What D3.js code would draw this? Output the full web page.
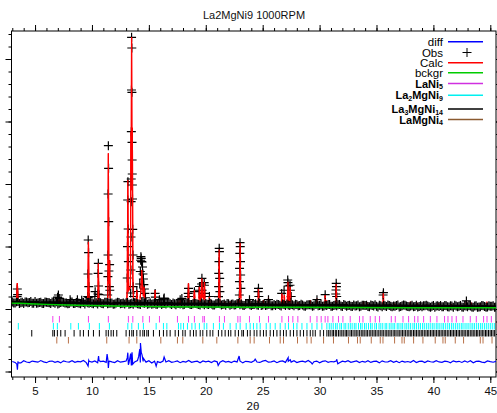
<!DOCTYPE html>
<html><head><meta charset="utf-8">
<script src="https://cdn.jsdelivr.net/npm/d3@7"></script>
<style>
body{margin:0;background:#fff;}
text{font-family:"Liberation Sans",Arial,Helvetica,sans-serif;}
</style>
</head><body>
<svg id="chart" width="497" height="413"></svg>
<script>
// ---------------- DATA ----------------
const chartTitle = "La2MgNi9 1000RPM";
const xLabel = "2\u03B8";
const xMajorTicks = [5,10,15,20,25,30,35,40,45];
const xTickLabels = ["5","10","15","20","25","30","35","40","45"];

// observed pattern: regular grid (start, step) of background counts
const obsStart = 3.0, obsStep = 0.25;
const obsBase = [
1111,1096,1119,1102,1089,1112,1106,1093,1120,1097,1107,1089,1110,1099,1113,1093,
1082,1104,1110,1095,1087,1112,1090,1100,1083,1103,1114,1091,1094,1105,1079,1101,
1085,1107,1091,1095,1080,1108,1084,1096,1100,1076,1093,1102,1084,1072,1098,1104,
1086,1078,1093,1075,1098,1089,1079,1103,1073,1084,1091,1080,1068,1092,1088,1073,
1095,1079,1064,1084,1089,1072,1080,1066,1089,1084,1071,1059,1083,1075,1066,1090,
1069,1061,1078,1084,1056,1073,1063,1088,1066,1058,1075,1053,1071,1076,1062,1080,
1055,1063,1072,1051,1073,1056,1064,1046,1069,1064,1052,1075,1055,1046,1064,1071,
1046,1057,1051,1073,1041,1062,1058,1046,1065,1051,1036,1061,1057,1041,1066,1048,
1043,1060,1037,1052,1065,1043,1048,1058,1033,1054,1059,1040,1050,1035,1062,1042,
1036,1053,1047,1030,1056,1048,1041,1035,1056,1036,1051,1029,1049,1045,1032,1053,
1038,1047,1029,1051,1033,1055,1039,1031,1044,1051,1034];
// intermediate observed points, offset by half a step (start 3.125)
const obsMidStart = 3.125;
const obsMid = [
1098,1117,1090,1109,1113,1100,1120,1092,1094,1106,1087,1114,1106,1088,1108,1116,
1093,1112,1097,1085,1113,1089,1103,1094,1107,1081,1100,1105,1083,1102,1109,1090,
1109,1084,1096,1077,1098,1105,1088,1081,1105,1084,1078,1096,1081,1106,1093,1076,
1098,1083,1076,1096,1071,1092,1099,1083,1096,1068,1088,1093,1077,1096,1071,1084,
1087,1071,1096,1067,1075,1090,1063,1086,1092,1066,1079,1087,1061,1079,1068,1088,
1081,1056,1084,1070,1074,1085,1061,1058,1081,1064,1078,1054,1055,1074,1050,1072,
1079,1057,1067,1076,1052,1076,1049,1063,1067,1045,1076,1054,1069,1050,1055,1073,
1044,1065,1070,1049,1071,1044,1060,1040,1049,1066,1044,1061,1062,1038,1058,1067,
1034,1054,1062,1040,1057,1036,1044,1063,1039,1063,1050,1036,1060,1041,1032,1054,
1051,1062,1035,1043,1030,1053,1057,1036,1054,1031,1047,1059,1036,1057,1027,1048,
1057,1033,1050,1029,1036,1053,1027,1051,1046,1029];

// observed points on the Bragg peaks [2theta, counts]
const obsPeaks = [
[3.42,1197],[3.44,1320],[3.47,1230],
[6.98,1190],[7.05,1224],[7.12,1170],
[8.08,1150],[8.72,1150],[9.1,1140],
[9.63,1197],[9.65,1560],[9.67,2104],[9.70,1901],[9.72,1357],[9.74,1180],
[10.25,1200],[10.28,1277],
[10.52,1240],[10.54,1571],[10.56,1731],[10.58,1368],[10.61,1230],
[11.38,1224],[11.40,1517],[11.41,1864],[11.42,2840],[11.44,3613],[11.46,3251],[11.47,2397],[11.49,1608],[11.53,1357],[11.55,1709],[11.57,1300],
[13.10,1496],[13.12,1997],[13.14,2744],[13.16,3037],[13.18,2280],[13.20,1757],
[13.40,1256],[13.42,1624],[13.43,2152],[13.44,2717],[13.45,3080],[13.46,3837],[13.47,4504],[13.48,5347],[13.50,5176],[13.51,4467],[13.52,3667],[13.53,3384],[13.54,3160],[13.55,2984],[13.56,2760],[13.58,2275],[13.60,1864],[13.62,1357],[13.65,1200],
[13.94,1280],
[14.20,1400],[14.25,1600],[14.28,1780],[14.30,1837],[14.33,1811],[14.36,1760],[14.40,1752],[14.44,1672],[14.48,1560],[14.52,1480],[14.56,1390],[14.60,1320],[14.65,1250],[14.70,1180],
[15.55,1250],[15.57,1190],[15.93,1150],
[16.30,1160],[16.35,1175],
[17.75,1150],[17.9,1170],
[18.46,1250],[18.48,1331],[18.50,1200],
[19.00,1277],
[19.42,1300],[19.45,1360],
[19.63,1400],[19.66,1491],[19.68,1300],
[19.86,1421],[19.88,1380],[19.90,1250],
[20.32,1200],
[21.12,1197],[21.13,1357],[21.14,1571],[21.16,1757],[21.18,1971],[21.20,1917],[21.22,1491],[21.24,1277],
[22.95,1224],[22.96,1437],[22.97,1651],[22.99,1891],[23.01,2061],[23.03,1997],[23.05,1757],[23.06,1544],[23.08,1331],
[23.84,1150],
[24.60,1277],[24.63,1331],[24.66,1200],
[25.51,1150],
[26.67,1250],[26.88,1300],[27.20,1464],[27.22,1421],[27.25,1368],[27.40,1380],[27.43,1300],[27.50,1200],
[29.77,1150],[30.49,1230],
[31.42,1240],[31.44,1304],[31.46,1411],[31.48,1357],[31.50,1200],
[35.58,1224],[35.61,1261],
[42.9,1130]];

// calculated profile [2theta, counts]
const calc = [
[2.93,1106],
[3.36,1108],[3.44,1416],[3.52,1108],
[4.5,1104],[5.5,1103],[6.5,1101],
[6.9,1104],[6.96,1171],[7.02,1110],[7.14,1144],[7.2,1101],
[7.6,1099],
[8.02,1099],[8.08,1130],[8.14,1098],
[8.66,1098],[8.72,1144],[8.78,1097],
[9.02,1097],[9.1,1117],[9.16,1096],
[9.6,1098],[9.64,1250],[9.69,2077],[9.74,1230],[9.78,1097],
[10.22,1096],[10.27,1140],[10.32,1095],
[10.5,1097],[10.53,1250],[10.56,1731],[10.60,1200],[10.64,1095],
[11.1,1094],
[11.36,1098],[11.40,1300],[11.44,3491],[11.48,1500],[11.52,1400],[11.55,1780],[11.59,1180],[11.64,1094],
[12.5,1092],
[13.05,1095],[13.10,1300],[13.15,3064],[13.19,1500],[13.23,1300],
[13.38,1350],[13.42,3840],[13.45,2900],[13.48,5352],[13.51,3300],[13.55,3900],[13.59,1500],[13.65,1150],
[13.88,1092],[13.94,1304],[14.0,1092],
[14.2,1110],[14.3,1300],[14.38,1624],[14.45,1350],[14.52,1200],[14.58,1357],[14.64,1150],[14.75,1095],
[15.45,1090],[15.5,1120],[15.55,1304],[15.6,1100],
[15.87,1088],[15.93,1144],[15.99,1088],
[16.35,1100],
[17.5,1085],[17.55,1110],[17.6,1085],
[17.7,1085],[17.75,1144],[17.81,1084],
[18.42,1086],[18.48,1411],[18.54,1086],
[18.94,1084],[19.0,1304],[19.06,1082],
[19.38,1084],[19.44,1357],[19.52,1120],[19.6,1150],[19.65,1491],[19.72,1200],[19.82,1150],[19.88,1437],[19.94,1090],
[20.26,1080],[20.32,1197],[20.38,1078],
[21.1,1080],[21.14,1300],[21.18,1950],[21.22,1280],[21.26,1078],
[21.6,1076],[21.64,1120],[21.68,1076],
[22.1,1075],[22.14,1120],[22.18,1074],
[22.78,1074],[22.82,1144],[22.86,1074],
[22.94,1080],[22.98,1350],[23.02,2060],[23.06,1300],[23.10,1075],
[23.78,1072],[23.84,1144],[23.9,1072],
[24.56,1071],[24.6,1150],[24.63,1320],[24.67,1140],[24.72,1070],
[25.02,1069],[25.07,1144],[25.12,1068],
[25.46,1068],[25.51,1180],[25.56,1068],
[26.1,1067],[26.14,1100],[26.18,1066],
[26.63,1066],[26.69,1250],[26.75,1070],[26.85,1090],[26.9,1224],[26.96,1080],
[27.16,1090],[27.22,1437],[27.28,1110],[27.36,1120],[27.42,1357],[27.48,1080],
[28.05,1063],[28.09,1110],[28.13,1062],
[29.13,1061],[29.18,1144],[29.23,1060],
[29.72,1060],[29.77,1170],[29.82,1059],
[30.44,1059],[30.49,1224],[30.54,1100],[30.58,1144],[30.63,1058],
[31.4,1058],[31.43,1150],[31.46,1400],[31.5,1130],[31.54,1057],
[32.28,1055],[32.32,1080],[32.36,1055],
[33.81,1053],[33.86,1117],[33.91,1053],
[34.12,1052],[34.16,1110],[34.2,1052],
[35.54,1051],[35.6,1251],[35.66,1050],
[36.56,1049],[36.6,1085],[36.64,1049],
[37.06,1048],[37.1,1080],[37.14,1048],
[37.92,1048],[37.97,1117],[38.02,1047],
[38.51,1047],[38.56,1101],[38.61,1047],
[39.36,1046],[39.4,1075],[39.44,1046],
[40.41,1044],[40.46,1095],[40.51,1044],
[41.56,1043],[41.6,1080],[41.64,1043],
[42.85,1043],[42.9,1144],[42.95,1042],
[43.28,1042],[43.33,1101],[43.38,1042],
[44.07,1041],[44.12,1095],[44.17,1041],
[44.65,1041],[44.7,1117],[44.75,1041],
[45.5,1040]];

// background [2theta, counts]
const bkg = [[2.93,1094],[3.5,1091],[4.5,1084],[6,1074],[7.8,1064],[10,1055],[12,1048],[14,1042],[16.4,1037],[20,1032],[24,1029],[28,1027],[33,1024],[38,1022],[44,1021],[45.5,1020]];

// difference curve (obs - calc) on the quarter-degree grid, plus sharp features [2theta, counts]
const diffBase = [
3,-12,8,-20,15,-5,-14,10,2,-8,18,-3,-16,6,11,-9,4,-19,13,-1,
-7,16,-11,5,-2,20,-15,7,-6,12,-18,3,9,-10,14,-4,-13,17,-8,1,
10,-17,6,-3,19,-12,4,-7,15,-20,8,2,-14,11,-5,16,-9,-1,13,-16,
5,-6,18,-11,0,9,-18,12,-3,7,-13,14,-2,-9,17,-7,3,-15,10,-4,
12,-19,6,1,-10,15,-5,-12,8,19,-8,-2,11,-16,4,13,-11,7,-6,16,
-14,2,9,-7,18,-13,-1,10,-17,5,14,-9,3,-4,12,-18,8,-3,16,-10,
1,11,-15,6,-8,17,-12,4,9,-19,13,-5,-2,15,-11,7,-16,10,-6,3,
-9,18,-13,5,8,-14,12,-1,-7,16,-4,-11,9,2,-17,14,-3,6,-12,11,
-8,15,-18,4,10,-6,-14,13,1,-9,7];
const diffFeatures = [
[3.40,-40],[3.45,-130],[3.50,-20],
[9.66,-70],[9.72,20],
[10.58,90],[10.62,20],
[11.33,123],[11.40,30],[11.44,-100],[11.50,10],
[13.10,60],[13.15,144],[13.20,-50],[13.40,130],[13.46,-60],[13.52,150],[13.58,-40],
[14.10,80],[14.20,200],[14.26,300],[14.33,150],[14.40,110],[14.50,60],
[15.64,-70],[16.34,75],[21.09,-60],[22.93,90],[24.34,40],
[27.24,64],[27.42,30],[29.35,-37],[31.5,40],[31.6,-35]];
const diffOffset = 157;

// reflection positions (2theta)
const reflLaNi5 = [6.56,7.14,9.69,11.44,13.20,13.59,14.47,15.05,15.93,17.51,18.48,19.00,19.74,19.88,21.20,21.64,22.82,23.02,23.84,24.72,25.51,26.69,27.27,27.65,28.09,29.18,29.77,30.14,30.49,30.73,31.17,31.66,32.05,32.69,33.51,33.81,34.45,34.89,35.27,36.30,36.65,37.33,37.82,38.35,38.64,39.14,39.73,40.31,40.98,41.28,41.63,42.01,42.60,43.24,43.77,44.41,44.71,45.09];
const reflLa2MgNi9 = [3.53,6.61,6.96,8.14,8.81,9.77,10.65,11.53,13.15,13.50,14.08,14.52,15.64,16.28,16.58,17.60,17.81,18.04,18.39,18.78,19.07,19.44,19.86,20.09,20.67,21.20,21.55,22.14,22.67,23.02,23.55,23.90,24.19,24.49,24.78,25.31,25.66,26.10,26.54,26.98,27.27,27.71,28.01,28.45,28.89,29.33,29.77,30.20,30.64,
30.85,31.02,31.2,31.41,31.55,31.78,31.93,32.15,32.3,32.52,32.7,32.86,33.05,33.2,33.42,33.6,33.74,33.95,34.1,34.3,34.48,34.62,34.85,35.0,35.22,35.38,35.55,35.76,35.9,36.12,36.28,36.45,36.6,36.82,36.97,37.15,37.3,37.5,37.66,37.83,38.0,38.2,38.35,38.52,38.7,38.86,39.05,39.2,39.38,39.55,39.72,39.9,40.06,40.25,40.4,40.57,40.75,40.9,41.08,41.26,41.42,41.6,41.75,41.93,42.1,42.27,42.45,42.6,42.78,42.95,43.12,43.3,43.46,43.62,43.8,43.97,44.15,44.3,44.48,44.65,44.82,45.0,45.17,45.35];
const reflLa3MgNi14 = [4.71,6.56,6.70,6.96,7.26,7.64,8.43,8.96,9.25,9.69,10.13,10.65,11.24,11.44,11.68,11.88,12.18,13.00,13.29,13.50,13.64,13.94,14.23,14.47,14.61,14.82,14.96,15.40,15.93,16.28,16.58,
16.87,17.31,17.60,17.98,18.19,18.63,18.92,19.15,19.51,19.74,20.09,20.38,20.62,21.11,21.41,21.70,21.99,22.20,22.58,22.87,23.17,23.31,23.66,23.90,24.25,24.49,24.78,25.07,25.31,25.66,25.95,26.25,26.54,26.83,27.07,27.42,27.71,28.01,28.30,28.59,28.89,29.18,29.41,29.62,30.05,30.35,30.64,
30.8,30.93,31.1,31.22,31.38,31.5,31.66,31.8,31.95,32.08,32.24,32.36,32.5,32.67,32.8,32.94,33.1,33.22,33.37,33.52,33.66,33.8,33.92,34.08,34.2,34.36,34.5,34.63,34.78,34.9,35.05,35.2,35.33,35.48,35.6,35.76,35.9,36.03,36.18,36.3,36.46,36.6,36.72,36.88,37.0,37.15,37.28,37.42,37.56,37.7,37.84,37.97,38.1,38.25,38.38,38.52,38.66,38.8,38.93,39.06,39.2,39.34,39.47,39.6,39.74,39.88,40.0,40.14,40.28,40.42,40.55,40.68,40.82,40.95,41.08,41.22,41.36,41.5,41.63,41.76,41.9,42.03,42.17,42.3,42.44,42.58,42.7,42.84,42.98,43.1,43.24,43.38,43.5,43.64,43.78,43.9,44.04,44.18,44.3,44.44,44.58,44.7,44.84,44.98,45.1,45.24,45.38];
const reflLaMgNi4 = [6.91,7.93,11.30,13.26,13.94,16.05,17.51,17.98,19.74,20.97,22.82,23.90,24.25,25.60,26.54,26.83,28.06,28.89,29.26,30.35,31.22,32.54,33.33,33.57,34.54,35.33,35.57,36.59,37.24,37.44,38.26,39.08,40.16,40.84,41.04,41.92,42.65,44.12,44.36,45.15];

const legendNames = ["diff","Obs","Calc","bckgr","LaNi5","La2MgNi9","La3MgNi14","LaMgNi4"];
const legendColors = ["#0000ff","#000000","#ff0000","#00cc00","#d030e0","#00f0f0","#000000","#8a5a30"];

// ---------------- LAYOUT ----------------
const W = 497, H = 413;
const plot = {left: 11.5, right: 496, top: 31, bottom: 377};
const svg = d3.select("#chart");
svg.append("rect").attr("width", W).attr("height", H).attr("fill", "#fff");

const x = d3.scaleLinear().domain([2.93, 45.5]).range([plot.left, plot.right]);
const y = d3.scaleLinear().domain([-88, 5448]).range([plot.bottom, plot.top]);

const defs = svg.append("defs");
defs.append("clipPath").attr("id", "clip")
  .append("rect").attr("x", plot.left).attr("y", plot.top)
  .attr("width", plot.right - plot.left).attr("height", plot.bottom - plot.top);
// region above the noisy background band, where the calc peaks show over the crosses
const bandTop = y(1175);
defs.append("clipPath").attr("id", "clipPeaks")
  .append("rect").attr("x", plot.left).attr("y", plot.top)
  .attr("width", plot.right - plot.left).attr("height", bandTop - plot.top);

// title
svg.append("text").attr("x", 254).attr("y", 19).attr("text-anchor", "middle")
  .attr("font-size", 11).attr("fill", "#111").text(chartTitle);

// axes
const xMinor = d3.range(3, 46, 1);
const yMajor = d3.range(0, 5001, 1000);
const yMinor = d3.range(0, 5401, 200);
function styleAxis(g){ g.select(".domain").remove(); g.selectAll("line").attr("stroke","#000"); }
svg.append("g").attr("transform", `translate(0,${plot.bottom})`)
  .call(d3.axisBottom(x).tickValues(xMinor).tickSize(3).tickFormat("")).call(styleAxis);
const xb = svg.append("g").attr("transform", `translate(0,${plot.bottom})`)
  .call(d3.axisBottom(x).tickValues(xMajorTicks).tickSize(6).tickPadding(4)
    .tickFormat((d,i) => xTickLabels[i])).call(styleAxis);
xb.selectAll("text").attr("font-size", 11.5).attr("fill", "#111")
  .attr("font-family", "'Liberation Sans',Arial,sans-serif");
svg.append("g").attr("transform", `translate(0,${plot.top})`)
  .call(d3.axisTop(x).tickValues(xMinor).tickSize(3).tickFormat("")).call(styleAxis);
svg.append("g").attr("transform", `translate(0,${plot.top})`)
  .call(d3.axisTop(x).tickValues(xMajorTicks).tickSize(6).tickFormat("")).call(styleAxis);
svg.append("g").attr("transform", `translate(${plot.left},0)`)
  .call(d3.axisLeft(y).tickValues(yMinor).tickSize(3).tickFormat("")).call(styleAxis);
svg.append("g").attr("transform", `translate(${plot.left},0)`)
  .call(d3.axisLeft(y).tickValues(yMajor).tickSize(6).tickFormat("")).call(styleAxis);
svg.append("g").attr("transform", `translate(${plot.right},0)`)
  .call(d3.axisRight(y).tickValues(yMinor).tickSize(3).tickFormat("")).call(styleAxis);
svg.append("g").attr("transform", `translate(${plot.right},0)`)
  .call(d3.axisRight(y).tickValues(yMajor).tickSize(6).tickFormat("")).call(styleAxis);

svg.append("rect").attr("x", plot.left).attr("y", plot.top)
  .attr("width", plot.right - plot.left).attr("height", plot.bottom - plot.top)
  .attr("fill", "none").attr("stroke", "#000").attr("stroke-width", 1);

svg.append("text").attr("x", 253).attr("y", 410).attr("text-anchor", "middle")
  .attr("font-size", 11.5).attr("fill", "#111").text(xLabel);

const data = svg.append("g").attr("clip-path", "url(#clip)");
const line = d3.line().x(d => x(d[0])).y(d => y(d[1]));

// calc profile (under the observed crosses)
data.append("path").attr("d", line(calc)).attr("fill", "none")
  .attr("stroke", "#ff0000").attr("stroke-width", 1.2);

// observed crosses
const obsPts = obsBase.map((v, i) => [obsStart + i * obsStep, v])
  .concat(obsMid.map((v, i) => [obsMidStart + i * obsStep, v]))
  .concat(obsPeaks);
const arm = 4.5;
data.append("path")
  .attr("d", obsPts.map(p => {
    const px = x(p[0]), py = y(p[1]);
    return `M${px-arm},${py}H${px+arm}M${px},${py-arm}V${py+arm}`;
  }).join(""))
  .attr("stroke", "#000").attr("stroke-width", 1.2).attr("fill", "none");

// calc peaks shown above the crosses (only above the background band)
data.append("g").attr("clip-path", "url(#clipPeaks)")
  .append("path").attr("d", line(calc)).attr("fill", "none")
  .attr("stroke", "#ff0000").attr("stroke-width", 1.2);

// background
data.append("path").attr("d", d3.line().x(d => x(d[0])).y(d => y(d[1])).curve(d3.curveMonotoneX)(bkg))
  .attr("fill", "none").attr("stroke", "#00cc00").attr("stroke-width", 1.5);

// reflection tick rows
const reflRows = [
  {vals: reflLaNi5, color: "#f040f0", y0: 316, y1: 322.5},
  {vals: reflLa2MgNi9, color: "#00ffff", y0: 323, y1: 329.5},
  {vals: reflLa3MgNi14, color: "#000000", y0: 330, y1: 336.5},
  {vals: reflLaMgNi4, color: "#b87048", y0: 337, y1: 343.5}
];
reflRows.forEach(r => {
  data.append("g").selectAll("line").data(r.vals).join("line")
    .attr("x1", d => x(d)).attr("x2", d => x(d))
    .attr("y1", r.y0).attr("y2", r.y1)
    .attr("stroke", r.color).attr("stroke-width", 1);
});

// difference curve
const diffPts = diffBase.map((v, i) => [obsStart + i * obsStep, v]).concat(diffFeatures)
  .sort((a, b) => a[0] - b[0]);
data.append("path")
  .attr("d", d3.line().x(d => x(d[0])).y(d => y(d[1] + diffOffset))(diffPts))
  .attr("fill", "none").attr("stroke", "#0000ff").attr("stroke-width", 1.2);

// legend
const legendRowY = [41.7, 52.5, 62.7, 72.8, 83.5, 95.3, 109, 119.5];
const lg = svg.append("g");
legendNames.forEach((name, i) => {
  const cy = legendRowY[i];
  const phase = i >= 4;
  const t = lg.append("text").attr("x", 443).attr("y", cy + 4).attr("text-anchor", "end")
    .attr("fill", "#000");
  if (!phase) {
    t.attr("font-size", 11.5).text(name);
  } else {
    t.attr("font-size", 11).attr("font-weight", "bold");
    const parts = name.match(/\d+|\D+/g);
    let shifted = false;
    parts.forEach(p => {
      const isNum = /\d/.test(p);
      const ts = t.append("tspan").text(p);
      if (isNum) { ts.attr("font-size", 7).attr("dy", shifted ? 0 : 1.5); shifted = true; }
      else { ts.attr("dy", shifted ? -1.5 : 0); shifted = false; }
    });
  }
  if (name === "Obs") {
    const cx = 467;
    lg.append("path").attr("d", `M${cx-4.5},${cy}H${cx+4.5}M${cx},${cy-4.5}V${cy+4.5}`)
      .attr("stroke", "#000").attr("stroke-width", 1);
  } else {
    lg.append("line").attr("x1", 448).attr("x2", 483).attr("y1", cy).attr("y2", cy)
      .attr("stroke", legendColors[i]).attr("stroke-width", 1.5);
  }
});
</script>
</body></html>
